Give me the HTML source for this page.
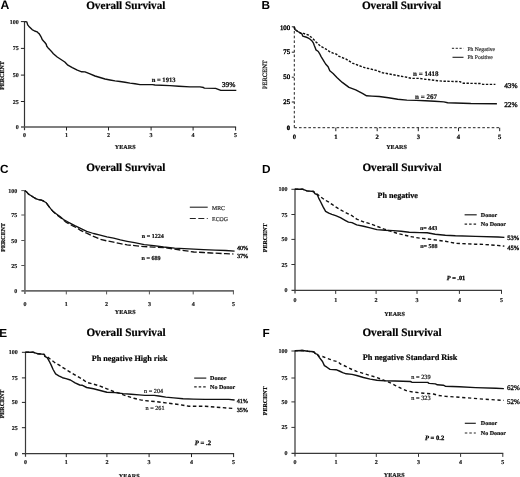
<!DOCTYPE html><html><head><meta charset="utf-8"><style>html,body{margin:0;padding:0;background:#fff;overflow:hidden;}svg{display:block;will-change:transform;text-rendering:geometricPrecision;}</style></head><body>
<svg width="520" height="477" viewBox="0 0 520 477">
<rect width="520" height="477" fill="#fff"/>
<line x1="24.5" y1="21.1" x2="24.5" y2="130.2" stroke="#333" stroke-width="1.2"/>
<line x1="21.0" y1="127.0" x2="236.1" y2="127.0" stroke="#555" stroke-width="1.7"/>
<line x1="20.9" y1="21.6" x2="24.5" y2="21.6" stroke="#222" stroke-width="1.0"/>
<line x1="20.9" y1="48.4" x2="24.5" y2="48.4" stroke="#222" stroke-width="1.0"/>
<line x1="20.9" y1="75.1" x2="24.5" y2="75.1" stroke="#222" stroke-width="1.0"/>
<line x1="20.9" y1="101.5" x2="24.5" y2="101.5" stroke="#222" stroke-width="1.0"/>
<line x1="66.5" y1="127.0" x2="66.5" y2="130.5" stroke="#222" stroke-width="1.0"/>
<line x1="108.5" y1="127.0" x2="108.5" y2="130.5" stroke="#222" stroke-width="1.0"/>
<line x1="151.1" y1="127.0" x2="151.1" y2="130.5" stroke="#222" stroke-width="1.0"/>
<line x1="193.1" y1="127.0" x2="193.1" y2="130.5" stroke="#222" stroke-width="1.0"/>
<line x1="235.6" y1="127.0" x2="235.6" y2="130.5" stroke="#222" stroke-width="1.0"/>
<text x="18.7" y="23.6" font-family='"Liberation Serif", serif' font-size="6.0" font-weight="bold" text-anchor="end" fill="#222" stroke="#222" stroke-width="0.2" >100</text>
<text x="18.7" y="50.4" font-family='"Liberation Serif", serif' font-size="6.0" font-weight="bold" text-anchor="end" fill="#222" stroke="#222" stroke-width="0.2" >75</text>
<text x="18.7" y="77.1" font-family='"Liberation Serif", serif' font-size="6.0" font-weight="bold" text-anchor="end" fill="#222" stroke="#222" stroke-width="0.2" >50</text>
<text x="18.7" y="103.5" font-family='"Liberation Serif", serif' font-size="6.0" font-weight="bold" text-anchor="end" fill="#222" stroke="#222" stroke-width="0.2" >25</text>
<text x="18.7" y="129.0" font-family='"Liberation Serif", serif' font-size="6.0" font-weight="bold" text-anchor="end" fill="#222" stroke="#222" stroke-width="0.2" >0</text>
<text x="24.5" y="137.1" font-family='"Liberation Serif", serif' font-size="6.0" font-weight="bold" text-anchor="middle" fill="#222" stroke="#222" stroke-width="0.2" >0</text>
<text x="66.5" y="137.1" font-family='"Liberation Serif", serif' font-size="6.0" font-weight="bold" text-anchor="middle" fill="#222" stroke="#222" stroke-width="0.2" >1</text>
<text x="108.5" y="137.1" font-family='"Liberation Serif", serif' font-size="6.0" font-weight="bold" text-anchor="middle" fill="#222" stroke="#222" stroke-width="0.2" >2</text>
<text x="151.1" y="137.1" font-family='"Liberation Serif", serif' font-size="6.0" font-weight="bold" text-anchor="middle" fill="#222" stroke="#222" stroke-width="0.2" >3</text>
<text x="193.1" y="137.1" font-family='"Liberation Serif", serif' font-size="6.0" font-weight="bold" text-anchor="middle" fill="#222" stroke="#222" stroke-width="0.2" >4</text>
<text x="235.6" y="137.1" font-family='"Liberation Serif", serif' font-size="6.0" font-weight="bold" text-anchor="middle" fill="#222" stroke="#222" stroke-width="0.2" >5</text>
<text x="125.2" y="149.3" font-family='"Liberation Serif", serif' font-size="6.1" font-weight="bold" text-anchor="middle" fill="#111" stroke="#111" stroke-width="0.2" >YEARS</text>
<text x="0.0" y="0.0" font-family='"Liberation Serif", serif' font-size="6.0" font-weight="bold" text-anchor="middle" fill="#111" stroke="#111" stroke-width="0.2" transform="translate(4.4,75.5) rotate(-90)">PERCENT</text>
<text x="125.8" y="8.7" font-family='"Liberation Serif", serif' font-size="11.2" font-weight="bold" text-anchor="middle" fill="#000" stroke="#000" stroke-width="0.2" >Overall Survival</text>
<text x="0.5" y="8.5" font-family='"Liberation Sans", sans-serif' font-size="12.2" font-weight="bold" text-anchor="start" fill="#000" >A</text>
<line x1="294.3" y1="26.3" x2="294.3" y2="128.3" stroke="#222" stroke-width="1.0" stroke-dasharray="2.6,2.1"/>
<line x1="294.3" y1="127.7" x2="500.2" y2="127.7" stroke="#222" stroke-width="1.0" stroke-dasharray="2.6,2.1"/>
<line x1="291.8" y1="26.8" x2="294.3" y2="26.8" stroke="#222" stroke-width="1.0"/>
<line x1="291.8" y1="52.2" x2="294.3" y2="52.2" stroke="#222" stroke-width="1.0"/>
<line x1="291.8" y1="77.2" x2="294.3" y2="77.2" stroke="#222" stroke-width="1.0"/>
<line x1="291.8" y1="102.0" x2="294.3" y2="102.0" stroke="#222" stroke-width="1.0"/>
<line x1="335.8" y1="127.7" x2="335.8" y2="131.2" stroke="#222" stroke-width="1.0"/>
<line x1="377.2" y1="127.7" x2="377.2" y2="131.2" stroke="#222" stroke-width="1.0"/>
<line x1="418.3" y1="127.7" x2="418.3" y2="131.2" stroke="#222" stroke-width="1.0"/>
<line x1="458.5" y1="127.7" x2="458.5" y2="131.2" stroke="#222" stroke-width="1.0"/>
<line x1="499.7" y1="127.7" x2="499.7" y2="131.2" stroke="#222" stroke-width="1.0"/>
<text x="290.1" y="30.2" font-family='"Liberation Serif", serif' font-size="6.8" font-weight="normal" text-anchor="end" fill="#000" stroke="#000" stroke-width="0.4" >100</text>
<text x="290.1" y="54.4" font-family='"Liberation Serif", serif' font-size="6.8" font-weight="normal" text-anchor="end" fill="#000" stroke="#000" stroke-width="0.4" >75</text>
<text x="290.1" y="79.4" font-family='"Liberation Serif", serif' font-size="6.8" font-weight="normal" text-anchor="end" fill="#000" stroke="#000" stroke-width="0.4" >50</text>
<text x="290.1" y="104.2" font-family='"Liberation Serif", serif' font-size="6.8" font-weight="normal" text-anchor="end" fill="#000" stroke="#000" stroke-width="0.4" >25</text>
<text x="290.1" y="129.9" font-family='"Liberation Serif", serif' font-size="6.6" font-weight="bold" text-anchor="end" fill="#000" stroke="#000" stroke-width="0.4" >0</text>
<text x="294.3" y="139.0" font-family='"Liberation Serif", serif' font-size="6.6" font-weight="bold" text-anchor="middle" fill="#000" stroke="#000" stroke-width="0.2" >0</text>
<text x="335.8" y="139.0" font-family='"Liberation Serif", serif' font-size="6.6" font-weight="bold" text-anchor="middle" fill="#000" stroke="#000" stroke-width="0.2" >1</text>
<text x="377.2" y="139.0" font-family='"Liberation Serif", serif' font-size="6.6" font-weight="bold" text-anchor="middle" fill="#000" stroke="#000" stroke-width="0.2" >2</text>
<text x="418.3" y="139.0" font-family='"Liberation Serif", serif' font-size="6.6" font-weight="bold" text-anchor="middle" fill="#000" stroke="#000" stroke-width="0.2" >3</text>
<text x="458.5" y="139.0" font-family='"Liberation Serif", serif' font-size="6.6" font-weight="bold" text-anchor="middle" fill="#000" stroke="#000" stroke-width="0.2" >4</text>
<text x="499.7" y="139.0" font-family='"Liberation Serif", serif' font-size="6.6" font-weight="bold" text-anchor="middle" fill="#000" stroke="#000" stroke-width="0.2" >5</text>
<text x="396.5" y="149.1" font-family='"Liberation Serif", serif' font-size="6.1" font-weight="bold" text-anchor="middle" fill="#111" stroke="#111" stroke-width="0.2" >YEARS</text>
<text x="0.0" y="0.0" font-family='"Liberation Serif", serif' font-size="6.5" font-weight="normal" text-anchor="middle" fill="#111" stroke="#111" stroke-width="0.25" transform="translate(266.6,74.6) rotate(-90)">PERCENT</text>
<text x="401.5" y="8.7" font-family='"Liberation Serif", serif' font-size="11.2" font-weight="bold" text-anchor="middle" fill="#000" stroke="#000" stroke-width="0.2" >Overall Survival</text>
<text x="261.5" y="8.7" font-family='"Liberation Sans", sans-serif' font-size="11.8" font-weight="bold" text-anchor="start" fill="#000" >B</text>
<line x1="24.9" y1="190.1" x2="24.9" y2="294.09999999999997" stroke="#777" stroke-width="1.8"/>
<line x1="21.4" y1="290.9" x2="233.9" y2="290.9" stroke="#686868" stroke-width="1.8"/>
<line x1="21.299999999999997" y1="190.6" x2="24.9" y2="190.6" stroke="#555" stroke-width="1.0"/>
<line x1="21.299999999999997" y1="215.0" x2="24.9" y2="215.0" stroke="#555" stroke-width="1.0"/>
<line x1="21.299999999999997" y1="240.5" x2="24.9" y2="240.5" stroke="#555" stroke-width="1.0"/>
<line x1="21.299999999999997" y1="265.5" x2="24.9" y2="265.5" stroke="#555" stroke-width="1.0"/>
<line x1="66.3" y1="290.9" x2="66.3" y2="294.4" stroke="#555" stroke-width="1.0"/>
<line x1="106.6" y1="290.9" x2="106.6" y2="294.4" stroke="#555" stroke-width="1.0"/>
<line x1="149.4" y1="290.9" x2="149.4" y2="294.4" stroke="#555" stroke-width="1.0"/>
<line x1="193.2" y1="290.9" x2="193.2" y2="294.4" stroke="#555" stroke-width="1.0"/>
<line x1="233.4" y1="290.9" x2="233.4" y2="294.4" stroke="#555" stroke-width="1.0"/>
<text x="17.2" y="192.6" font-family='"Liberation Serif", serif' font-size="6.0" font-weight="bold" text-anchor="end" fill="#222" stroke="#222" stroke-width="0.2" >100</text>
<text x="17.2" y="217.0" font-family='"Liberation Serif", serif' font-size="6.0" font-weight="bold" text-anchor="end" fill="#222" stroke="#222" stroke-width="0.2" >75</text>
<text x="17.2" y="242.5" font-family='"Liberation Serif", serif' font-size="6.0" font-weight="bold" text-anchor="end" fill="#222" stroke="#222" stroke-width="0.2" >50</text>
<text x="17.2" y="267.5" font-family='"Liberation Serif", serif' font-size="6.0" font-weight="bold" text-anchor="end" fill="#222" stroke="#222" stroke-width="0.2" >25</text>
<text x="17.2" y="292.9" font-family='"Liberation Serif", serif' font-size="6.0" font-weight="bold" text-anchor="end" fill="#222" stroke="#222" stroke-width="0.2" >0</text>
<text x="24.9" y="306.0" font-family='"Liberation Serif", serif' font-size="6.0" font-weight="bold" text-anchor="middle" fill="#222" stroke="#222" stroke-width="0.2" >0</text>
<text x="66.3" y="306.0" font-family='"Liberation Serif", serif' font-size="6.0" font-weight="bold" text-anchor="middle" fill="#222" stroke="#222" stroke-width="0.2" >1</text>
<text x="106.6" y="306.0" font-family='"Liberation Serif", serif' font-size="6.0" font-weight="bold" text-anchor="middle" fill="#222" stroke="#222" stroke-width="0.2" >2</text>
<text x="149.4" y="306.0" font-family='"Liberation Serif", serif' font-size="6.0" font-weight="bold" text-anchor="middle" fill="#222" stroke="#222" stroke-width="0.2" >3</text>
<text x="193.2" y="306.0" font-family='"Liberation Serif", serif' font-size="6.0" font-weight="bold" text-anchor="middle" fill="#222" stroke="#222" stroke-width="0.2" >4</text>
<text x="233.4" y="306.0" font-family='"Liberation Serif", serif' font-size="6.0" font-weight="bold" text-anchor="middle" fill="#222" stroke="#222" stroke-width="0.2" >5</text>
<text x="125.2" y="313.5" font-family='"Liberation Serif", serif' font-size="6.1" font-weight="bold" text-anchor="middle" fill="#111" stroke="#111" stroke-width="0.2" >YEARS</text>
<text x="0.0" y="0.0" font-family='"Liberation Serif", serif' font-size="6.0" font-weight="bold" text-anchor="middle" fill="#111" stroke="#111" stroke-width="0.2" transform="translate(4.5,237.3) rotate(-90)">PERCENT</text>
<text x="125.8" y="171.2" font-family='"Liberation Serif", serif' font-size="11.2" font-weight="bold" text-anchor="middle" fill="#000" stroke="#000" stroke-width="0.2" >Overall Survival</text>
<text x="0.0" y="172.6" font-family='"Liberation Sans", sans-serif' font-size="11.8" font-weight="bold" text-anchor="start" fill="#000" >C</text>
<line x1="295" y1="188.8" x2="295" y2="293.59999999999997" stroke="#666" stroke-width="1.6"/>
<line x1="291.5" y1="290.4" x2="502.0" y2="290.4" stroke="#3a3a3a" stroke-width="1.3"/>
<line x1="291.4" y1="189.3" x2="295" y2="189.3" stroke="#333" stroke-width="1.0"/>
<line x1="291.4" y1="214.5" x2="295" y2="214.5" stroke="#333" stroke-width="1.0"/>
<line x1="291.4" y1="239.4" x2="295" y2="239.4" stroke="#333" stroke-width="1.0"/>
<line x1="291.4" y1="264.5" x2="295" y2="264.5" stroke="#333" stroke-width="1.0"/>
<line x1="335.7" y1="290.4" x2="335.7" y2="293.9" stroke="#333" stroke-width="1.0"/>
<line x1="376.1" y1="290.4" x2="376.1" y2="293.9" stroke="#333" stroke-width="1.0"/>
<line x1="417.0" y1="290.4" x2="417.0" y2="293.9" stroke="#333" stroke-width="1.0"/>
<line x1="459.4" y1="290.4" x2="459.4" y2="293.9" stroke="#333" stroke-width="1.0"/>
<line x1="501.5" y1="290.4" x2="501.5" y2="293.9" stroke="#333" stroke-width="1.0"/>
<text x="287.5" y="191.3" font-family='"Liberation Serif", serif' font-size="6.0" font-weight="bold" text-anchor="end" fill="#222" stroke="#222" stroke-width="0.2" >100</text>
<text x="287.5" y="216.5" font-family='"Liberation Serif", serif' font-size="6.0" font-weight="bold" text-anchor="end" fill="#222" stroke="#222" stroke-width="0.2" >75</text>
<text x="287.5" y="241.4" font-family='"Liberation Serif", serif' font-size="6.0" font-weight="bold" text-anchor="end" fill="#222" stroke="#222" stroke-width="0.2" >50</text>
<text x="287.5" y="266.5" font-family='"Liberation Serif", serif' font-size="6.0" font-weight="bold" text-anchor="end" fill="#222" stroke="#222" stroke-width="0.2" >25</text>
<text x="287.5" y="292.4" font-family='"Liberation Serif", serif' font-size="6.0" font-weight="bold" text-anchor="end" fill="#222" stroke="#222" stroke-width="0.2" >0</text>
<text x="295.0" y="301.8" font-family='"Liberation Serif", serif' font-size="6.0" font-weight="bold" text-anchor="middle" fill="#222" stroke="#222" stroke-width="0.2" >0</text>
<text x="335.7" y="301.8" font-family='"Liberation Serif", serif' font-size="6.0" font-weight="bold" text-anchor="middle" fill="#222" stroke="#222" stroke-width="0.2" >1</text>
<text x="376.1" y="301.8" font-family='"Liberation Serif", serif' font-size="6.0" font-weight="bold" text-anchor="middle" fill="#222" stroke="#222" stroke-width="0.2" >2</text>
<text x="417.0" y="301.8" font-family='"Liberation Serif", serif' font-size="6.0" font-weight="bold" text-anchor="middle" fill="#222" stroke="#222" stroke-width="0.2" >3</text>
<text x="459.4" y="301.8" font-family='"Liberation Serif", serif' font-size="6.0" font-weight="bold" text-anchor="middle" fill="#222" stroke="#222" stroke-width="0.2" >4</text>
<text x="501.5" y="301.8" font-family='"Liberation Serif", serif' font-size="6.0" font-weight="bold" text-anchor="middle" fill="#222" stroke="#222" stroke-width="0.2" >5</text>
<text x="394.5" y="315.6" font-family='"Liberation Serif", serif' font-size="6.1" font-weight="bold" text-anchor="middle" fill="#111" stroke="#111" stroke-width="0.2" >YEARS</text>
<text x="0.0" y="0.0" font-family='"Liberation Serif", serif' font-size="6.0" font-weight="bold" text-anchor="middle" fill="#111" stroke="#111" stroke-width="0.2" transform="translate(267.3,237.8) rotate(-90)">PERCENT</text>
<text x="402.0" y="171.0" font-family='"Liberation Serif", serif' font-size="11.2" font-weight="bold" text-anchor="middle" fill="#000" stroke="#000" stroke-width="0.2" >Overall Survival</text>
<text x="262.0" y="172.8" font-family='"Liberation Sans", sans-serif' font-size="11.8" font-weight="bold" text-anchor="start" fill="#000" >D</text>
<line x1="25.5" y1="351.8" x2="25.5" y2="456.8" stroke="#3a3a3a" stroke-width="1.2"/>
<line x1="22.0" y1="453.6" x2="234.1" y2="453.6" stroke="#3a3a3a" stroke-width="1.2"/>
<line x1="21.9" y1="352.3" x2="25.5" y2="352.3" stroke="#222" stroke-width="1.0"/>
<line x1="21.9" y1="377.9" x2="25.5" y2="377.9" stroke="#222" stroke-width="1.0"/>
<line x1="21.9" y1="402.4" x2="25.5" y2="402.4" stroke="#222" stroke-width="1.0"/>
<line x1="21.9" y1="427.7" x2="25.5" y2="427.7" stroke="#222" stroke-width="1.0"/>
<line x1="66.3" y1="453.6" x2="66.3" y2="457.1" stroke="#222" stroke-width="1.0"/>
<line x1="106.9" y1="453.6" x2="106.9" y2="457.1" stroke="#222" stroke-width="1.0"/>
<line x1="149.1" y1="453.6" x2="149.1" y2="457.1" stroke="#222" stroke-width="1.0"/>
<line x1="191.5" y1="453.6" x2="191.5" y2="457.1" stroke="#222" stroke-width="1.0"/>
<line x1="233.6" y1="453.6" x2="233.6" y2="457.1" stroke="#222" stroke-width="1.0"/>
<text x="17.8" y="354.3" font-family='"Liberation Serif", serif' font-size="6.0" font-weight="bold" text-anchor="end" fill="#222" stroke="#222" stroke-width="0.2" >100</text>
<text x="17.8" y="379.9" font-family='"Liberation Serif", serif' font-size="6.0" font-weight="bold" text-anchor="end" fill="#222" stroke="#222" stroke-width="0.2" >75</text>
<text x="17.8" y="404.4" font-family='"Liberation Serif", serif' font-size="6.0" font-weight="bold" text-anchor="end" fill="#222" stroke="#222" stroke-width="0.2" >50</text>
<text x="17.8" y="429.7" font-family='"Liberation Serif", serif' font-size="6.0" font-weight="bold" text-anchor="end" fill="#222" stroke="#222" stroke-width="0.2" >25</text>
<text x="17.8" y="455.6" font-family='"Liberation Serif", serif' font-size="6.0" font-weight="bold" text-anchor="end" fill="#222" stroke="#222" stroke-width="0.2" >0</text>
<text x="25.5" y="463.8" font-family='"Liberation Serif", serif' font-size="6.0" font-weight="bold" text-anchor="middle" fill="#222" stroke="#222" stroke-width="0.2" >0</text>
<text x="66.3" y="463.8" font-family='"Liberation Serif", serif' font-size="6.0" font-weight="bold" text-anchor="middle" fill="#222" stroke="#222" stroke-width="0.2" >1</text>
<text x="106.9" y="463.8" font-family='"Liberation Serif", serif' font-size="6.0" font-weight="bold" text-anchor="middle" fill="#222" stroke="#222" stroke-width="0.2" >2</text>
<text x="149.1" y="463.8" font-family='"Liberation Serif", serif' font-size="6.0" font-weight="bold" text-anchor="middle" fill="#222" stroke="#222" stroke-width="0.2" >3</text>
<text x="191.5" y="463.8" font-family='"Liberation Serif", serif' font-size="6.0" font-weight="bold" text-anchor="middle" fill="#222" stroke="#222" stroke-width="0.2" >4</text>
<text x="233.6" y="463.8" font-family='"Liberation Serif", serif' font-size="6.0" font-weight="bold" text-anchor="middle" fill="#222" stroke="#222" stroke-width="0.2" >5</text>
<text x="129.2" y="477.5" font-family='"Liberation Serif", serif' font-size="6.1" font-weight="bold" text-anchor="middle" fill="#111" stroke="#111" stroke-width="0.2" >YEARS</text>
<text x="0.0" y="0.0" font-family='"Liberation Serif", serif' font-size="6.0" font-weight="bold" text-anchor="middle" fill="#111" stroke="#111" stroke-width="0.2" transform="translate(4.3,404) rotate(-90)">PERCENT</text>
<text x="126.0" y="336.4" font-family='"Liberation Serif", serif' font-size="11.2" font-weight="bold" text-anchor="middle" fill="#000" stroke="#000" stroke-width="0.2" >Overall Survival</text>
<text x="-0.7" y="337.0" font-family='"Liberation Sans", sans-serif' font-size="11.8" font-weight="bold" text-anchor="start" fill="#000" >E</text>
<line x1="295" y1="350.5" x2="295" y2="456.59999999999997" stroke="#666" stroke-width="1.6"/>
<line x1="291.5" y1="453.4" x2="503.3" y2="453.4" stroke="#3a3a3a" stroke-width="1.2"/>
<line x1="291.4" y1="351.0" x2="295" y2="351.0" stroke="#333" stroke-width="1.0"/>
<line x1="291.4" y1="378.0" x2="295" y2="378.0" stroke="#333" stroke-width="1.0"/>
<line x1="291.4" y1="401.9" x2="295" y2="401.9" stroke="#333" stroke-width="1.0"/>
<line x1="291.4" y1="427.4" x2="295" y2="427.4" stroke="#333" stroke-width="1.0"/>
<line x1="336.0" y1="453.4" x2="336.0" y2="456.9" stroke="#333" stroke-width="1.0"/>
<line x1="376.3" y1="453.4" x2="376.3" y2="456.9" stroke="#333" stroke-width="1.0"/>
<line x1="418.5" y1="453.4" x2="418.5" y2="456.9" stroke="#333" stroke-width="1.0"/>
<line x1="460.6" y1="453.4" x2="460.6" y2="456.9" stroke="#333" stroke-width="1.0"/>
<line x1="502.8" y1="453.4" x2="502.8" y2="456.9" stroke="#333" stroke-width="1.0"/>
<text x="287.5" y="353.0" font-family='"Liberation Serif", serif' font-size="6.0" font-weight="bold" text-anchor="end" fill="#222" stroke="#222" stroke-width="0.2" >100</text>
<text x="287.5" y="380.0" font-family='"Liberation Serif", serif' font-size="6.0" font-weight="bold" text-anchor="end" fill="#222" stroke="#222" stroke-width="0.2" >75</text>
<text x="287.5" y="403.9" font-family='"Liberation Serif", serif' font-size="6.0" font-weight="bold" text-anchor="end" fill="#222" stroke="#222" stroke-width="0.2" >50</text>
<text x="287.5" y="429.4" font-family='"Liberation Serif", serif' font-size="6.0" font-weight="bold" text-anchor="end" fill="#222" stroke="#222" stroke-width="0.2" >25</text>
<text x="287.5" y="455.4" font-family='"Liberation Serif", serif' font-size="6.0" font-weight="bold" text-anchor="end" fill="#222" stroke="#222" stroke-width="0.2" >0</text>
<text x="295.0" y="463.8" font-family='"Liberation Serif", serif' font-size="6.0" font-weight="bold" text-anchor="middle" fill="#222" stroke="#222" stroke-width="0.2" >0</text>
<text x="336.0" y="463.8" font-family='"Liberation Serif", serif' font-size="6.0" font-weight="bold" text-anchor="middle" fill="#222" stroke="#222" stroke-width="0.2" >1</text>
<text x="376.3" y="463.8" font-family='"Liberation Serif", serif' font-size="6.0" font-weight="bold" text-anchor="middle" fill="#222" stroke="#222" stroke-width="0.2" >2</text>
<text x="418.5" y="463.8" font-family='"Liberation Serif", serif' font-size="6.0" font-weight="bold" text-anchor="middle" fill="#222" stroke="#222" stroke-width="0.2" >3</text>
<text x="460.6" y="463.8" font-family='"Liberation Serif", serif' font-size="6.0" font-weight="bold" text-anchor="middle" fill="#222" stroke="#222" stroke-width="0.2" >4</text>
<text x="502.8" y="463.8" font-family='"Liberation Serif", serif' font-size="6.0" font-weight="bold" text-anchor="middle" fill="#222" stroke="#222" stroke-width="0.2" >5</text>
<text x="394.2" y="477.3" font-family='"Liberation Serif", serif' font-size="6.1" font-weight="bold" text-anchor="middle" fill="#111" stroke="#111" stroke-width="0.2" >YEARS</text>
<text x="0.0" y="0.0" font-family='"Liberation Serif", serif' font-size="6.0" font-weight="bold" text-anchor="middle" fill="#111" stroke="#111" stroke-width="0.2" transform="translate(267.3,400.8) rotate(-90)">PERCENT</text>
<text x="402.0" y="336.4" font-family='"Liberation Serif", serif' font-size="11.2" font-weight="bold" text-anchor="middle" fill="#000" stroke="#000" stroke-width="0.2" >Overall Survival</text>
<text x="262.5" y="337.0" font-family='"Liberation Sans", sans-serif' font-size="11.8" font-weight="bold" text-anchor="start" fill="#000" >F</text>
<polyline points="24.8,21.6 26.8,21.9 27.7,24.9 29.5,27.1 32.1,29.6 34.6,31.0 37.1,31.8 38.0,32.8 39.3,33.9 40.5,35.8 41.4,37.5 42.2,39.5 43.5,41.0 44.9,42.5 46.2,44.2 46.8,46.3 48.1,47.9 49.7,49.6 51.0,50.9 53.4,53.8 57.2,57.0 61.0,59.5 64.8,62.0 67.9,65.2 72.3,67.7 77.3,70.2 81.7,71.8 85.0,71.9 90.0,73.8 95.0,76.0 100.0,77.5 105.0,79.0 110.0,80.0 115.0,80.9 120.0,81.5 125.0,82.2 130.0,83.1 135.0,83.8 140.0,84.6 145.0,84.6 152.5,84.6 155.0,85.0 170.0,85.6 178.8,86.2 190.0,86.9 200.0,86.9 203.5,87.5 204.3,88.1 215.6,88.4 220.8,90.4 236.3,90.4" fill="none" stroke="#111" stroke-width="1.4" stroke-linejoin="round"/>
<text x="163.6" y="81.9" font-family='"Liberation Serif", serif' font-size="6.6" font-weight="bold" text-anchor="middle" fill="#111" stroke="#111" stroke-width="0.2" >n = 1913</text>
<text x="228.6" y="86.8" font-family='"Liberation Serif", serif' font-size="7.4" font-weight="normal" text-anchor="middle" fill="#111" stroke="#111" stroke-width="0.35" >39%</text>
<polyline points="294.3,26.9 294.9,29.5 297.8,31.5 300.7,33.2 302.1,34.1 302.7,36.1 305.8,37.0 307.9,37.8 309.8,39.0 311.8,40.7 313.3,42.8 314.3,45.5 315.4,48.2 316.0,49.9 318.3,51.5 319.7,53.8 321.1,56.6 323.1,59.8 325.6,64.0 328.1,66.8 329.8,70.8 333.1,73.5 336.9,77.4 342.3,82.4 349.0,87.4 355.7,89.9 362.4,93.3 366.6,95.8 372.0,96.1 379.2,96.5 388.5,97.8 397.7,99.3 406.9,100.1 416.2,100.4 425.4,100.8 434.6,101.2 443.8,101.9 447.7,102.7 470.8,103.5 496.9,103.8" fill="none" stroke="#111" stroke-width="1.4" stroke-linejoin="round"/>
<polyline points="294.3,26.9 294.9,29.5 297.8,31.5 300.7,33.2 303.5,33.4 306.4,34.4 308.3,35.0 309.8,36.3 311.8,37.5 313.7,39.4 315.6,41.7 317.5,43.2 319.5,45.2 321.4,46.7 323.3,47.7 326.2,49.2 329.4,51.5 333.1,53.2 336.3,54.1 339.1,56.4 345.7,58.9 352.4,63.1 359.1,65.6 365.8,68.1 370.0,68.8 376.2,70.4 382.3,72.7 388.5,73.8 394.6,75.0 400.8,76.2 406.9,77.3 411.5,78.4 419.2,78.4 425.4,79.3 431.5,79.9 437.7,80.8 443.8,81.2 460.0,81.6 463.1,83.2 480.0,83.5 483.1,84.4 495.4,84.4" fill="none" stroke="#111" stroke-width="1.4" stroke-linejoin="round" stroke-dasharray="2.4,1.5"/>
<text x="425.8" y="75.6" font-family='"Liberation Serif", serif' font-size="7.0" font-weight="bold" text-anchor="middle" fill="#111" stroke="#111" stroke-width="0.2" >n = 1418</text>
<text x="426.0" y="99.1" font-family='"Liberation Serif", serif' font-size="7.0" font-weight="bold" text-anchor="middle" fill="#111" stroke="#111" stroke-width="0.2" >n = 267</text>
<text x="504.2" y="87.8" font-family='"Liberation Serif", serif' font-size="7.3" font-weight="normal" text-anchor="start" fill="#111" stroke="#111" stroke-width="0.35" >43%</text>
<text x="504.2" y="107.2" font-family='"Liberation Serif", serif' font-size="7.3" font-weight="normal" text-anchor="start" fill="#111" stroke="#111" stroke-width="0.35" >22%</text>
<line x1="451.9" y1="48.3" x2="463.5" y2="48.3" stroke="#222" stroke-width="1.0" stroke-dasharray="2.2,1.6"/>
<line x1="452.5" y1="57.3" x2="463.5" y2="57.3" stroke="#222" stroke-width="1.1"/>
<text x="467.5" y="50.6" font-family='"Liberation Serif", serif' font-size="5.6" font-weight="normal" text-anchor="start" fill="#333" stroke="#333" stroke-width="0.2" >Ph Negative</text>
<text x="467.5" y="59.4" font-family='"Liberation Serif", serif' font-size="5.6" font-weight="normal" text-anchor="start" fill="#333" stroke="#333" stroke-width="0.2" >Ph Positive</text>
<polyline points="24.9,190.9 26.6,191.8 28.5,194.1 31.2,195.7 33.5,197.3 36.3,198.9 38.6,199.6 41.4,200.1 43.7,201.2 46.3,202.8 49.4,207.2 52.9,211.3 56.4,213.9 60.0,216.6 63.5,219.5 67.6,221.8 70.5,223.3 74.8,225.6 80.0,228.1 86.7,231.4 93.5,233.5 100.2,235.2 106.9,236.8 113.6,238.2 120.4,239.9 127.1,241.3 134.6,242.7 144.2,244.7 153.8,245.6 163.5,247.0 174.6,248.2 184.2,248.7 193.8,249.1 203.5,249.6 215.0,250.1 225.8,250.5 234.6,251.1" fill="none" stroke="#111" stroke-width="1.3" stroke-linejoin="round"/>
<polyline points="24.9,190.9 26.6,191.8 28.5,194.1 31.2,195.7 33.5,197.3 36.3,198.9 38.6,199.6 41.4,200.1 43.7,201.2 46.3,202.8 49.4,207.2 52.9,211.3 54.7,213.0 57.6,215.4 60.6,217.7 63.5,220.1 66.4,222.4 72.3,225.6 77.3,228.1 80.0,230.1 86.7,233.2 93.5,236.4 100.2,239.2 106.9,240.9 113.6,242.2 120.4,243.6 127.1,244.9 134.6,245.6 144.2,246.6 153.8,247.1 163.5,247.6 174.6,249.1 184.2,250.6 193.8,252.0 203.5,252.5 211.2,253.0 225.8,253.7 233.4,254.0" fill="none" stroke="#111" stroke-width="1.3" stroke-linejoin="round" stroke-dasharray="6,2.3"/>
<text x="152.8" y="237.6" font-family='"Liberation Serif", serif' font-size="6.1" font-weight="bold" text-anchor="middle" fill="#111" stroke="#111" stroke-width="0.2" >n = 1224</text>
<text x="151.0" y="259.7" font-family='"Liberation Serif", serif' font-size="6.1" font-weight="bold" text-anchor="middle" fill="#111" stroke="#111" stroke-width="0.2" >n = 689</text>
<text x="242.6" y="249.8" font-family='"Liberation Serif", serif' font-size="6.2" font-weight="normal" text-anchor="middle" fill="#111" stroke="#111" stroke-width="0.35" >40%</text>
<text x="242.6" y="257.5" font-family='"Liberation Serif", serif' font-size="6.2" font-weight="normal" text-anchor="middle" fill="#111" stroke="#111" stroke-width="0.35" >37%</text>
<line x1="189.8" y1="207.2" x2="207.7" y2="207.2" stroke="#222" stroke-width="1.1"/>
<line x1="189.8" y1="218.5" x2="207.7" y2="218.5" stroke="#222" stroke-width="1.1" stroke-dasharray="6,2.5"/>
<text x="212.1" y="209.5" font-family='"Liberation Serif", serif' font-size="5.8" font-weight="normal" text-anchor="start" fill="#333" stroke="#333" stroke-width="0.2" >MRC</text>
<text x="212.1" y="220.5" font-family='"Liberation Serif", serif' font-size="5.8" font-weight="normal" text-anchor="start" fill="#333" stroke="#333" stroke-width="0.2" >ECOG</text>
<polyline points="294.9,189.3 303.0,189.3 307.0,190.9 313.7,191.5 314.9,193.7 317.4,194.9 318.7,198.1 320.6,201.8 323.1,206.9 325.6,211.3 328.8,213.2 331.9,214.4 335.7,215.7 340.4,217.7 345.1,220.3 348.5,222.1 352.0,222.6 356.7,224.9 363.5,226.3 370.2,227.9 376.9,229.6 385.0,230.3 393.1,230.6 401.1,231.2 409.2,232.2 420.0,232.6 427.1,232.8 435.2,234.2 445.3,235.2 455.4,235.8 475.6,236.4 498.0,237.0 504.4,237.4" fill="none" stroke="#111" stroke-width="1.4" stroke-linejoin="round"/>
<polyline points="294.9,189.3 303.0,189.3 307.0,190.9 313.7,191.5 314.9,193.7 317.4,194.2 320.6,196.8 324.4,199.6 328.8,202.2 332.5,204.7 335.7,206.9 338.1,208.4 343.9,211.7 349.7,214.6 352.0,215.7 356.7,219.1 363.5,221.8 370.2,223.8 376.9,226.3 383.6,228.9 390.4,231.2 397.1,233.3 403.8,234.9 410.6,236.6 420.0,238.2 431.2,239.4 445.3,241.3 455.4,243.3 475.6,244.2 483.0,244.4 495.8,245.3 504.4,246.1" fill="none" stroke="#111" stroke-width="1.4" stroke-linejoin="round" stroke-dasharray="3.4,2.4"/>
<text x="397.7" y="197.8" font-family='"Liberation Serif", serif' font-size="8.1" font-weight="bold" text-anchor="middle" fill="#000" stroke="#000" stroke-width="0.2" >Ph negative</text>
<text x="428.6" y="229.6" font-family='"Liberation Serif", serif' font-size="6.0" font-weight="bold" text-anchor="middle" fill="#111" stroke="#111" stroke-width="0.2" >n= 443</text>
<text x="428.8" y="248.4" font-family='"Liberation Serif", serif' font-size="6.0" font-weight="bold" text-anchor="middle" fill="#111" stroke="#111" stroke-width="0.2" >n= 588</text>
<text x="507.2" y="240.1" font-family='"Liberation Serif", serif' font-size="6.5" font-weight="normal" text-anchor="start" fill="#111" stroke="#111" stroke-width="0.35" >53%</text>
<text x="507.2" y="249.8" font-family='"Liberation Serif", serif' font-size="6.5" font-weight="normal" text-anchor="start" fill="#111" stroke="#111" stroke-width="0.35" >45%</text>
<line x1="464.6" y1="214.8" x2="476.7" y2="214.8" stroke="#222" stroke-width="1.2"/>
<line x1="464.6" y1="224.2" x2="476.7" y2="224.2" stroke="#222" stroke-width="1.2" stroke-dasharray="2.5,2"/>
<text x="480.8" y="216.9" font-family='"Liberation Serif", serif' font-size="6.0" font-weight="bold" text-anchor="start" fill="#111" stroke="#111" stroke-width="0.2" >Donor</text>
<text x="480.8" y="226.3" font-family='"Liberation Serif", serif' font-size="6.0" font-weight="bold" text-anchor="start" fill="#111" stroke="#111" stroke-width="0.2" >No Donor</text>
<text x="456" y="280.3" font-family='"Liberation Serif", serif' font-size="6.3" font-weight="bold" text-anchor="middle" fill="#000" stroke="#000" stroke-width="0.25"><tspan font-style="italic">P</tspan> = .01</text>
<polyline points="25.5,352.3 33.5,352.3 38.1,353.8 44.3,354.4 44.9,356.3 47.4,357.9 49.3,361.3 51.2,365.1 53.1,369.5 55.6,373.9 58.8,375.8 62.5,377.7 66.0,378.6 70.4,380.0 75.1,382.9 79.7,385.0 82.0,385.2 86.7,387.5 93.5,388.8 100.2,390.5 106.9,392.2 115.0,392.6 123.1,393.6 131.1,394.2 139.2,394.9 145.0,395.4 154.2,395.4 158.8,396.0 165.8,397.1 173.8,397.9 183.1,398.8 193.4,399.1 205.0,399.4 228.8,399.4 234.6,400.0" fill="none" stroke="#111" stroke-width="1.4" stroke-linejoin="round"/>
<polyline points="25.5,352.3 33.5,352.3 38.1,353.8 44.3,354.4 44.9,356.3 47.4,356.9 50.6,359.4 54.4,362.3 58.8,364.8 62.5,367.3 66.0,369.5 68.1,370.8 73.9,374.3 79.7,377.7 82.0,378.9 86.7,382.4 93.5,384.1 100.2,386.2 106.9,388.8 113.6,391.5 120.4,393.6 127.1,396.2 133.8,398.3 140.6,399.9 145.0,400.6 156.5,401.7 165.8,402.9 175.0,404.0 183.1,405.2 188.8,406.3 205.0,406.3 220.8,407.5 234.6,408.6" fill="none" stroke="#111" stroke-width="1.4" stroke-linejoin="round" stroke-dasharray="3.5,2.5"/>
<text x="129.6" y="360.7" font-family='"Liberation Serif", serif' font-size="8.2" font-weight="bold" text-anchor="middle" fill="#000" stroke="#000" stroke-width="0.2" >Ph negative High risk</text>
<text x="153.6" y="393.1" font-family='"Liberation Serif", serif' font-size="6.2" font-weight="normal" text-anchor="middle" fill="#111" stroke="#111" stroke-width="0.2" >n = 204</text>
<text x="155.0" y="410.4" font-family='"Liberation Serif", serif' font-size="6.2" font-weight="normal" text-anchor="middle" fill="#111" stroke="#111" stroke-width="0.2" >n = 261</text>
<text x="242.3" y="402.5" font-family='"Liberation Serif", serif' font-size="6.2" font-weight="normal" text-anchor="middle" fill="#111" stroke="#111" stroke-width="0.35" >41%</text>
<text x="242.3" y="411.5" font-family='"Liberation Serif", serif' font-size="6.2" font-weight="normal" text-anchor="middle" fill="#111" stroke="#111" stroke-width="0.35" >35%</text>
<line x1="194.2" y1="378.1" x2="206.3" y2="378.1" stroke="#222" stroke-width="1.2"/>
<line x1="194.2" y1="386.8" x2="206.3" y2="386.8" stroke="#222" stroke-width="1.2" stroke-dasharray="2.5,2"/>
<text x="210.1" y="380.2" font-family='"Liberation Serif", serif' font-size="6.0" font-weight="bold" text-anchor="start" fill="#111" stroke="#111" stroke-width="0.2" >Donor</text>
<text x="210.1" y="388.9" font-family='"Liberation Serif", serif' font-size="6.0" font-weight="bold" text-anchor="start" fill="#111" stroke="#111" stroke-width="0.2" >No Donor</text>
<text x="202.9" y="445.3" font-family='"Liberation Serif", serif' font-size="6.7" font-weight="bold" text-anchor="middle" fill="#000" stroke="#000" stroke-width="0.25"><tspan font-style="italic">P</tspan> = .2</text>
<polyline points="294.9,350.8 302.4,350.5 308.1,351.3 313.7,351.8 315.5,353.7 317.4,354.3 319.3,357.4 322.5,361.5 324.4,365.6 326.9,367.2 330.0,369.4 336.0,369.7 339.3,371.0 342.7,372.7 346.2,373.8 352.0,374.4 356.7,375.5 363.5,377.5 370.2,379.1 376.9,380.2 385.0,380.9 395.0,381.0 410.4,381.5 411.8,382.2 427.7,382.4 429.1,383.4 435.4,383.9 437.3,384.8 443.3,385.2 445.3,386.2 459.4,386.8 475.6,387.6 495.8,388.2 503.9,388.6" fill="none" stroke="#111" stroke-width="1.4" stroke-linejoin="round"/>
<polyline points="294.9,350.8 302.4,350.5 308.1,351.3 313.7,351.8 315.5,353.7 317.4,354.3 318.7,356.2 322.5,356.5 326.2,358.1 330.0,359.3 334.4,360.9 338.1,361.7 340.4,364.0 343.9,365.5 348.5,367.8 352.0,369.5 356.7,371.4 363.5,373.5 370.2,375.5 376.9,377.5 383.6,380.2 390.4,382.9 395.0,385.3 400.8,388.2 407.5,391.1 414.2,392.2 423.8,393.2 433.5,394.0 438.3,395.4 445.3,396.3 465.5,397.7 485.7,399.3 503.9,400.4" fill="none" stroke="#111" stroke-width="1.4" stroke-linejoin="round" stroke-dasharray="3.2,2.7"/>
<text x="410.1" y="360.4" font-family='"Liberation Serif", serif' font-size="8.3" font-weight="bold" text-anchor="middle" fill="#000" stroke="#000" stroke-width="0.2" >Ph negative Standard Risk</text>
<text x="421.0" y="379.1" font-family='"Liberation Serif", serif' font-size="6.3" font-weight="normal" text-anchor="middle" fill="#111" stroke="#111" stroke-width="0.2" >n = 239</text>
<text x="421.0" y="400.1" font-family='"Liberation Serif", serif' font-size="6.3" font-weight="normal" text-anchor="middle" fill="#111" stroke="#111" stroke-width="0.2" >n = 323</text>
<text x="506.9" y="390.4" font-family='"Liberation Serif", serif' font-size="7.0" font-weight="normal" text-anchor="start" fill="#111" stroke="#111" stroke-width="0.35" >62%</text>
<text x="506.9" y="403.6" font-family='"Liberation Serif", serif' font-size="7.0" font-weight="normal" text-anchor="start" fill="#111" stroke="#111" stroke-width="0.35" >52%</text>
<line x1="464.8" y1="423.3" x2="475.8" y2="423.3" stroke="#222" stroke-width="1.2"/>
<line x1="464.8" y1="433.0" x2="475.8" y2="433.0" stroke="#222" stroke-width="1.2" stroke-dasharray="2.5,2"/>
<text x="480.8" y="425.4" font-family='"Liberation Serif", serif' font-size="6.0" font-weight="bold" text-anchor="start" fill="#111" stroke="#111" stroke-width="0.2" >Donor</text>
<text x="480.8" y="435.1" font-family='"Liberation Serif", serif' font-size="6.0" font-weight="bold" text-anchor="start" fill="#111" stroke="#111" stroke-width="0.2" >No Donor</text>
<text x="434.6" y="440.0" font-family='"Liberation Serif", serif' font-size="6.6" font-weight="bold" text-anchor="middle" fill="#000" stroke="#000" stroke-width="0.25"><tspan font-style="italic">P</tspan> = 0.2</text>
</svg></body></html>
